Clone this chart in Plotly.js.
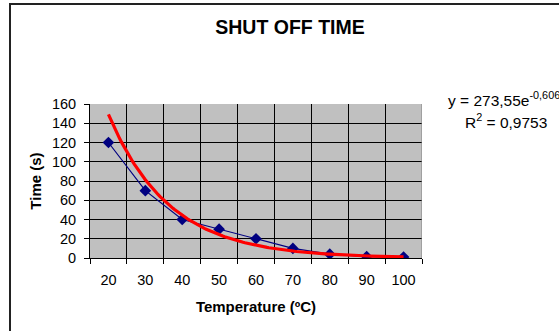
<!DOCTYPE html>
<html>
<head>
<meta charset="utf-8">
<script src="https://cdn.plot.ly/plotly-3.0.1.min.js"></script>
<style>
  html, body { margin: 0; padding: 0; background: #fff; overflow: hidden; }
  #wrap { position: relative; width: 559px; height: 331px; }
  #chart { position: absolute; left: 0; top: 0; width: 559px; height: 331px; }
  #frame { position: absolute; left: 9px; top: 3px; width: 700px; height: 500px;
           border-left: 2px solid #222; border-top: 2px solid #222; pointer-events: none; }
</style>
</head>
<body>
<div id="wrap">
  <div id="chart"></div>
  <div id="frame"></div>
</div>
<script>
// ---- data ----
const temperatures = [20, 30, 40, 50, 60, 70, 80, 90, 100];
const shutOffTime = [120, 70, 40, 30, 20, 10, 4, 1.5, 1];
const xTickLabels = ['20', '30', '40', '50', '60', '70', '80', '90', '100'];
const yTickValues = [0, 20, 40, 60, 80, 100, 120, 140, 160];
const categoryBounds = [15, 25, 35, 45, 55, 65, 75, 85, 95, 105];
const trendEquation = 'y = 273,55e<sup>-0,6064x</sup>';
const trendR2 = 'R<sup>2</sup> = 0,9753';

// ---- exponential trendline: least-squares fit of ln(y) on category index (1..n) ----
const idx = temperatures.map((_, i) => i + 1);
const lny = shutOffTime.map(v => Math.log(v));
const n = idx.length;
const mx = idx.reduce((a, b) => a + b, 0) / n;
const my = lny.reduce((a, b) => a + b, 0) / n;
let sxy = 0, sxx = 0;
for (let i = 0; i < n; i++) { sxy += (idx[i] - mx) * (lny[i] - my); sxx += (idx[i] - mx) ** 2; }
const slope = sxy / sxx;
const A = Math.exp(my - slope * mx);
const trendX = [], trendY = [];
const t0 = temperatures[0], t1 = temperatures[n - 1];
for (let k = 0; k <= 160; k++) {
  const t = t0 + (t1 - t0) * k / 160;
  const ci = 1 + (t - t0) / (temperatures[1] - temperatures[0]);
  trendX.push(t);
  trendY.push(A * Math.exp(slope * ci));
}

const FONT = 'Arial, "Liberation Sans", sans-serif';
// plot area in pixels: top 104, bottom 258, left 90, right 422
const PX = x => (x - 90) / 332;
const PY = y => (258 - y) / 154;

const data = [
  {
    x: temperatures, y: shutOffTime, type: 'scatter', mode: 'lines+markers',
    line: { color: '#000080', width: 1.2 },
    marker: { symbol: 'diamond', size: 9, color: '#000080' },
    xaxis: 'x', yaxis: 'y', hoverinfo: 'x+y'
  },
  {
    x: trendX, y: trendY, type: 'scatter', mode: 'lines',
    line: { color: '#ff0000', width: 3.2 },
    xaxis: 'x', yaxis: 'y', hoverinfo: 'skip'
  },
  {
    x: [temperatures[0]], y: [shutOffTime[0]], xaxis: 'x2', yaxis: 'y', type: 'scatter', mode: 'markers',
    marker: { opacity: 0 }, hoverinfo: 'skip'
  }
];

const layout = {
  width: 559, height: 331,
  margin: { l: 90, r: 137, t: 104, b: 73, pad: 0 },
  paper_bgcolor: '#ffffff',
  plot_bgcolor: '#c0c0c0',
  showlegend: false,
  font: { family: FONT, color: '#000', size: 14 },
  title: {
    text: '<b>SHUT OFF TIME</b>',
    font: { family: FONT, size: 19.5, color: '#000' },
    xref: 'container', yref: 'container',
    x: 290 / 559, y: 1 - 27 / 331, xanchor: 'center', yanchor: 'middle'
  },
  xaxis: {
    range: [15, 105], fixedrange: true,
    tickmode: 'array', tickvals: categoryBounds, showticklabels: false,
    ticks: 'outside', ticklen: 5, tickcolor: '#000', tickwidth: 1,
    showgrid: true, gridcolor: '#000', gridwidth: 1,
    showline: true, linecolor: '#000', linewidth: 1,
    zeroline: false
  },
  xaxis2: {
    overlaying: 'x', matches: 'x', range: [15, 105], fixedrange: true, anchor: 'y',
    tickmode: 'array', tickvals: temperatures, ticktext: xTickLabels,
    ticks: '', ticklabelstandoff: 11, showgrid: false, showline: false, zeroline: false,
    tickfont: { family: FONT, size: 14.5, color: '#000' },
    title: { text: '<b>Temperature (ºC)</b>', font: { family: FONT, size: 15, color: '#000' }, standoff: 14 }
  },
  yaxis: {
    range: [0, 160], fixedrange: true,
    tickmode: 'array', tickvals: yTickValues,
    ticks: 'outside', ticklen: 5, tickcolor: '#000', tickwidth: 1, ticklabelstandoff: 5,
    showgrid: true, gridcolor: '#000', gridwidth: 1,
    showline: true, linecolor: '#000', linewidth: 1, mirror: false,
    zeroline: false,
    tickfont: { family: FONT, size: 14.5, color: '#000' },
    title: { text: '<b>Time (s)</b>', font: { family: FONT, size: 15, color: '#000' }, standoff: 6 }
  },
  shapes: [
    { type: 'line', xref: 'x', yref: 'y', x0: 105, x1: 105, y0: 0, y1: 160, line: { color: '#808080', width: 1 } }
  ],
  annotations: [
    { text: trendEquation, xref: 'paper', yref: 'paper', x: PX(445.6), y: PY(99),
      xanchor: 'left', yanchor: 'middle', showarrow: false, font: { family: FONT, size: 15.5, color: '#000' } },
    { text: trendR2, xref: 'paper', yref: 'paper', x: PX(505.7), y: PY(121),
      xanchor: 'center', yanchor: 'middle', showarrow: false, font: { family: FONT, size: 15.5, color: '#000' } }
  ]
};

Plotly.newPlot('chart', data, layout, { displayModeBar: false, staticPlot: true });
</script>
</body>
</html>
